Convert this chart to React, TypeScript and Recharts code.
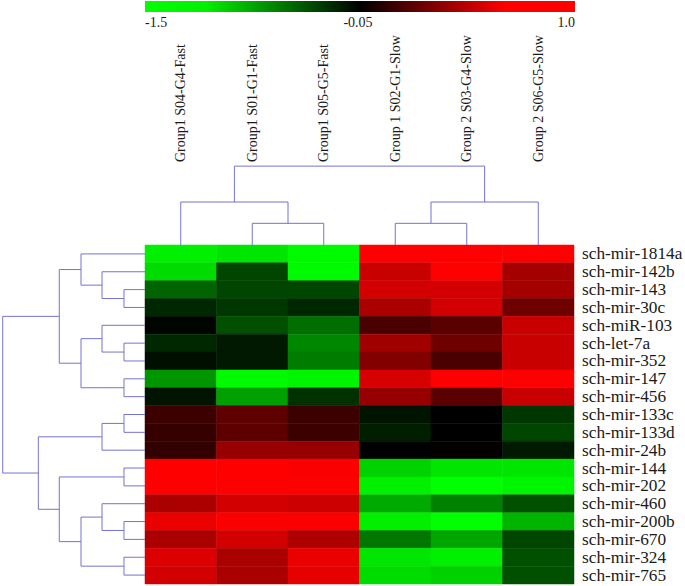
import React from "react";
import {
  ScatterChart,
  Scatter,
  XAxis,
  YAxis,
  ReferenceArea,
  ReferenceLine
} from "recharts";

// columns (samples), left to right
const samples = [
  "Group1 S04-G4-Fast",
  "Group1 S01-G1-Fast",
  "Group1 S05-G5-Fast",
  "Group 1 S02-G1-Slow",
  "Group 2 S03-G4-Slow",
  "Group 2 S06-G5-Slow"
];

// rows (miRNAs), top to bottom
const mirnas = [
  "sch-mir-1814a",
  "sch-mir-142b",
  "sch-mir-143",
  "sch-mir-30c",
  "sch-miR-103",
  "sch-let-7a",
  "sch-mir-352",
  "sch-mir-147",
  "sch-mir-456",
  "sch-mir-133c",
  "sch-mir-133d",
  "sch-mir-24b",
  "sch-mir-144",
  "sch-mir-202",
  "sch-mir-460",
  "sch-mir-200b",
  "sch-mir-670",
  "sch-mir-324",
  "sch-mir-765"
];

// expression values, one row per miRNA, one entry per sample
const values = [
  [-1.415, -1.358, -1.472, 1.0, 1.0, 1.0],
  [-1.301, -0.448, -1.472, 0.774, 1.0, 0.63],
  [-0.619, -0.448, -0.448, 0.815, 0.815, 0.63],
  [-0.277, -0.363, -0.277, 0.65, 0.815, 0.403],
  [-0.078, -0.505, -0.676, 0.259, 0.321, 0.774],
  [-0.277, -0.192, -0.818, 0.609, 0.403, 0.774],
  [-0.135, -0.192, -0.761, 0.485, 0.259, 0.774],
  [-0.903, -1.472, -1.443, 0.835, 1.0, 1.0],
  [-0.164, -0.96, -0.334, 0.568, 0.321, 0.774],
  [0.197, 0.341, 0.197, -0.164, -0.05, -0.363],
  [0.176, 0.341, 0.197, -0.22, -0.05, -0.448],
  [0.156, 0.568, 0.568, -0.05, -0.03, -0.192],
  [1.0, 1.0, 0.979, -1.244, -1.358, -1.358],
  [1.0, 1.0, 1.0, -1.415, -1.5, -1.443],
  [0.65, 0.815, 0.794, -1.017, -0.789, -0.505],
  [0.918, 0.979, 0.979, -1.415, -1.5, -1.074],
  [0.65, 0.815, 0.671, -0.732, -0.988, -0.448],
  [0.856, 0.65, 0.918, -1.358, -1.415, -0.505],
  [0.815, 0.65, 0.897, -1.301, -1.244, -0.505]
];

const scaleMin = -1.5;
const scaleMid = -0.05;
const scaleMax = 1.0;
const scaleTicks = ["-1.5", "-0.05", "1.0"];

type Node = number | { h: number; c: [Node, Node] };
const n = (h: number, a: Node, b: Node): Node => ({ h, c: [a, b] });

// sample clustering, merge heights in row units
const sampleTree: Node = n(4.42, n(2.41, 0, n(1.215, 1, 2)), n(2.41, n(1.215, 3, 4), 5));

// miRNA clustering, merge heights in column units
const mirnaTree: Node = n(
  1.99,
  n(1.199, n(0.895, 0, n(0.601, 1, n(0.294, 2, 3))), n(0.895, n(0.601, 4, n(0.294, 5, 6)), n(0.294, 7, 8))),
  n(
    1.492,
    n(0.601, n(0.294, 9, 10), 11),
    n(1.199, n(0.294, 12, 13), n(0.895, n(0.601, 14, n(0.294, 15, 16)), n(0.294, 17, 18)))
  )
);

const FONT = "'Liberation Serif', 'Times New Roman', serif";
const TREE = "#7373d2";

function cellColor(v: number) {
  if (v <= scaleMid) {
    const t = Math.min(1, (scaleMid - v) / (scaleMid - scaleMin));
    return `rgb(0,${Math.round(255 * t)},0)`;
  }
  const t = Math.min(1, (v - scaleMid) / (scaleMax - scaleMid));
  return `rgb(${Math.round(255 * t)},0,0)`;
}

type Seg = [number, number, number, number]; // pos1, h1, pos2, h2
function layout(node: Node, segs: Seg[]): { pos: number; h: number } {
  if (typeof node === "number") return { pos: node + 0.5, h: 0 };
  const a = layout(node.c[0], segs);
  const b = layout(node.c[1], segs);
  segs.push([a.pos, a.h, a.pos, node.h]);
  segs.push([b.pos, b.h, b.pos, node.h]);
  segs.push([a.pos, node.h, b.pos, node.h]);
  return { pos: (a.pos + b.pos) / 2, h: node.h };
}

const topSegs: Seg[] = [];
layout(sampleTree, topSegs);
const leftSegs: Seg[] = [];
layout(mirnaTree, leftSegs);

const cells = values.flatMap((row, r) =>
  row.map((v, c) => ({ x: c + 0.5, y: r + 0.5, row: r, col: c, v }))
);

const ColumnTick = (props: any) => {
  const { x, payload } = props;
  const label = samples[Math.round(payload.value - 0.5)];
  return (
    <text
      x={x}
      y={162}
      transform={`rotate(-90, ${x}, 162)`}
      textAnchor="start"
      dominantBaseline="central"
      fontSize={14}
      fontFamily={FONT}
      fill="#1a1a1a"
    >
      {label}
    </text>
  );
};

const RowTick = (props: any) => {
  const { y, payload } = props;
  const label = mirnas[Math.round(payload.value - 0.5)];
  return (
    <text x={582} y={y} textAnchor="start" dominantBaseline="central" fontSize={17.3} fontFamily={FONT} fill="#1a1a1a">
      {label}
    </text>
  );
};

export default function App() {
  return (
    <div style={{ position: "absolute", left: 0, top: 0, width: 685, height: 586, background: "#fff" }}>
      <ScatterChart width={685} height={586} margin={{ top: 162, right: 0, bottom: 2, left: 145 }}>
        <XAxis
          type="number"
          dataKey="x"
          orientation="top"
          domain={[0, samples.length]}
          ticks={samples.map((_, i) => i + 0.5)}
          height={83}
          axisLine={false}
          tickLine={false}
          tick={ColumnTick}
          allowDataOverflow
        />
        <YAxis
          type="number"
          dataKey="y"
          orientation="right"
          reversed
          domain={[0, mirnas.length]}
          ticks={mirnas.map((_, i) => i + 0.5)}
          width={111}
          axisLine={false}
          tickLine={false}
          tick={RowTick}
          interval={0}
          allowDataOverflow
        />
        {cells.map((d) => (
          <ReferenceArea
            key={`c-${d.row}-${d.col}`}
            x1={d.col}
            x2={d.col + 1}
            y1={d.row}
            y2={d.row + 1}
            fill={cellColor(d.v)}
            fillOpacity={1}
            stroke={cellColor(d.v)}
            strokeWidth={0.5}
            ifOverflow="visible"
          />
        ))}
        {topSegs.map((s, i) => (
          <ReferenceLine
            key={`t-${i}`}
            segment={[
              { x: s[0], y: -s[1] },
              { x: s[2], y: -s[3] }
            ]}
            stroke={TREE}
            strokeWidth={1}
            ifOverflow="visible"
          />
        ))}
        {leftSegs.map((s, i) => (
          <ReferenceLine
            key={`l-${i}`}
            segment={[
              { x: -s[1], y: s[0] },
              { x: -s[3], y: s[2] }
            ]}
            stroke={TREE}
            strokeWidth={1}
            ifOverflow="visible"
          />
        ))}
        <Scatter data={cells} isAnimationActive={false} shape={() => <g />} />
      </ScatterChart>
      <svg width={685} height={40} style={{ position: "absolute", left: 0, top: 0 }}>
        <defs>
          <linearGradient id="scaleGrad" x1="0" x2="1" y1="0" y2="0">
            <stop offset="0" stopColor="#00ff00" />
            <stop offset="0.14" stopColor="#00f000" />
            <stop offset="0.5" stopColor="#000000" />
            <stop offset="0.84" stopColor="#ff0000" />
            <stop offset="1" stopColor="#ff0000" />
          </linearGradient>
        </defs>
        <rect x={145} y={1} width={430} height={11} fill="url(#scaleGrad)" />
        <text x={145} y={27} fontSize={14} fontFamily={FONT} fill="#1a1a1a" textAnchor="start">
          {scaleTicks[0]}
        </text>
        <text x={358} y={27} fontSize={14} fontFamily={FONT} fill="#1a1a1a" textAnchor="middle">
          {scaleTicks[1]}
        </text>
        <text x={575} y={27} fontSize={14} fontFamily={FONT} fill="#1a1a1a" textAnchor="end">
          {scaleTicks[2]}
        </text>
      </svg>
    </div>
  );
}
